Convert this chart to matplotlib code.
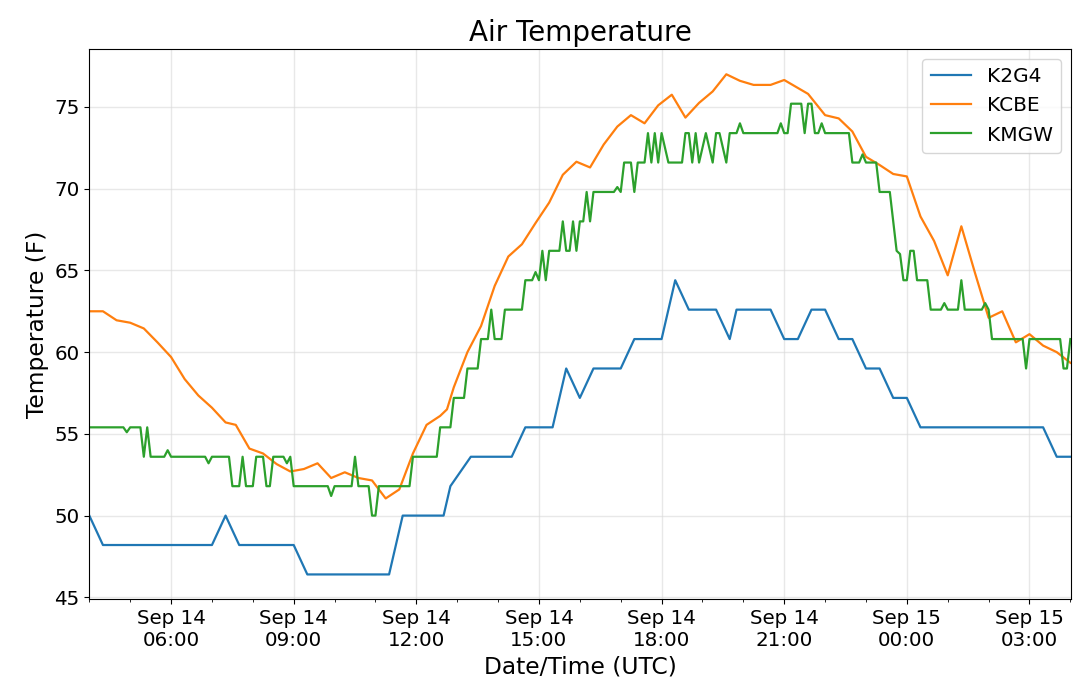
import pandas as pd
import matplotlib
matplotlib.use("Agg")
import matplotlib.pyplot as plt
import matplotlib.dates as mdates

# start of the record, times below are minutes after this
start = pd.Timestamp("2019-09-14 04:00")

k2g4_min = [0, 20, 180, 200, 220, 300, 320, 440, 460, 520, 530, 560, 620, 640,
            680, 700, 720, 740, 780, 800, 840, 860, 880, 920, 940, 950, 1000,
            1020, 1040, 1060, 1080, 1100, 1120, 1140, 1160, 1180, 1200, 1220,
            1400, 1420, 1440]
k2g4_temp = [50.0, 48.2, 48.2, 50.0, 48.2, 48.2, 46.4, 46.4, 50.0, 50.0, 51.8,
             53.6, 53.6, 55.4, 55.4, 59.0, 57.2, 59.0, 59.0, 60.8, 60.8, 64.4,
             62.6, 62.6, 60.8, 62.6, 62.6, 60.8, 60.8, 62.6, 62.6, 60.8, 60.8,
             59.0, 59.0, 57.2, 57.2, 55.4, 55.4, 53.6, 53.6]

kcbe_min = [0, 20, 40, 60, 80, 100, 120, 140, 160, 180, 200, 215, 235, 255,
            275, 295, 315, 335, 355, 375, 395, 415, 435, 455, 475, 495, 515,
            525, 535, 555, 575, 595, 615, 635, 655, 675, 695, 715, 735, 755,
            775, 795, 815, 835, 855, 875, 895, 915, 935, 955, 975, 1000, 1020,
            1055, 1080, 1100, 1120, 1140, 1160, 1180, 1200, 1220, 1240, 1260,
            1280, 1300, 1320, 1340, 1360, 1380, 1400, 1420, 1440]
kcbe_temp = [62.5, 62.5, 61.95, 61.8, 61.45, 60.6, 59.7, 58.35, 57.35, 56.6,
             55.7, 55.55, 54.1, 53.8, 53.15, 52.7, 52.85, 53.2, 52.3, 52.65,
             52.3, 52.15, 51.05, 51.6, 53.8, 55.55, 56.1, 56.5, 57.85, 60.0,
             61.6, 64.05, 65.85, 66.6, 67.9, 69.15, 70.85, 71.65, 71.3, 72.7,
             73.8, 74.5, 74.0, 75.1, 75.75, 74.35, 75.25, 75.95, 77.0, 76.6,
             76.35, 76.35, 76.65, 75.8, 74.5, 74.3, 73.5, 71.95, 71.45, 70.9,
             70.75, 68.3, 66.8, 64.7, 67.7, 64.85, 62.1, 62.5, 60.6, 61.1,
             60.4, 60.0, 59.35]

kmgw_min = [0, 50, 55, 60, 75, 80, 85, 90, 110, 115, 120, 170, 175, 180, 205,
            210, 220, 225, 230, 240, 245, 255, 260, 265, 270, 285, 290, 295,
            300, 350, 355, 360, 385, 390, 395, 410, 415, 420, 425, 470, 475,
            510, 515, 530, 535, 550, 555, 570, 575, 585, 590, 595, 605, 610,
            635, 640, 650, 655, 660, 665, 670, 675, 690, 695, 700, 705, 710,
            715, 720, 725, 730, 735, 740, 770, 775, 780, 785, 795, 800, 805,
            815, 820, 825, 830, 835, 840, 850, 870, 875, 880, 885, 890, 895,
            905, 915, 920, 925, 935, 940, 950, 955, 960, 1010, 1015, 1020,
            1025, 1030, 1045, 1050, 1055, 1060, 1065, 1070, 1075, 1080, 1115,
            1120, 1130, 1135, 1140, 1155, 1160, 1175, 1185, 1190, 1195, 1200,
            1205, 1210, 1215, 1230, 1235, 1250, 1255, 1260, 1275, 1280, 1285,
            1310, 1315, 1320, 1325, 1370, 1375, 1380, 1425, 1430, 1435, 1440]
kmgw_temp = [55.4, 55.4, 55.1, 55.4, 55.4, 53.6, 55.4, 53.6, 53.6, 54.0, 53.6,
             53.6, 53.2, 53.6, 53.6, 51.8, 51.8, 53.6, 51.8, 51.8, 53.6, 53.6,
             51.8, 51.8, 53.6, 53.6, 53.2, 53.6, 51.8, 51.8, 51.2, 51.8, 51.8,
             53.6, 51.8, 51.8, 50.0, 50.0, 51.8, 51.8, 53.6, 53.6, 55.4, 55.4,
             57.2, 57.2, 59.0, 59.0, 60.8, 60.8, 62.6, 60.8, 60.8, 62.6, 62.6,
             64.4, 64.4, 64.9, 64.4, 66.2, 64.4, 66.2, 66.2, 68.0, 66.2, 66.2,
             68.0, 66.2, 68.0, 68.0, 69.8, 68.0, 69.8, 69.8, 70.1, 69.8, 71.6,
             71.6, 69.8, 71.6, 71.6, 73.4, 71.6, 73.4, 71.6, 73.4, 71.6, 71.6,
             73.4, 73.4, 71.6, 73.4, 71.6, 73.4, 71.6, 73.4, 73.4, 71.6, 73.4,
             73.4, 74.0, 73.4, 73.4, 74.0, 73.4, 73.4, 75.2, 75.2, 73.4, 75.2,
             75.2, 73.4, 73.4, 74.0, 73.4, 73.4, 71.6, 71.6, 72.1, 71.6, 71.6,
             69.8, 69.8, 66.2, 66.0, 64.4, 64.4, 66.2, 66.2, 64.4, 64.4, 62.6,
             62.6, 63.0, 62.6, 62.6, 64.4, 62.6, 62.6, 63.0, 62.6, 60.8, 60.8,
             59.0, 60.8, 60.8, 59.0, 59.0, 60.8]

stations = ["K2G4", "KCBE", "KMGW"]


def to_times(mins):
    return (start + pd.to_timedelta(mins, unit="m")).to_pydatetime()


fig, ax = plt.subplots(figsize=(10.8, 6.93), dpi=100)
fig.subplots_adjust(left=0.0827, right=0.9917, top=0.9289, bottom=0.135)

for name, mins, temps in zip(stations,
                             [k2g4_min, kcbe_min, kmgw_min],
                             [k2g4_temp, kcbe_temp, kmgw_temp]):
    ax.plot(to_times(mins), temps, label=name, lw=1.6)

ax.set_xlim(start.to_pydatetime(), (start + pd.Timedelta(minutes=1441)).to_pydatetime())
ax.xaxis.set_major_locator(mdates.HourLocator(byhour=range(0, 24, 3)))
ax.xaxis.set_minor_locator(mdates.HourLocator())
ax.xaxis.set_major_formatter(mdates.DateFormatter("%b %d\n%H:%M"))

ax.grid(True, color="#d9d9d9", alpha=0.6, lw=1.0)
ax.tick_params(labelsize=14.3)
for lbl in ax.get_xticklabels():
    lbl.set_horizontalalignment("center")

ax.set_title("Air Temperature", fontsize=20)
ax.set_xlabel("Date/Time (UTC)", fontsize=16.8)
ax.set_ylabel("Temperature (F)", fontsize=16.8)
ax.legend(loc="upper right", fontsize=14.5)

fig.savefig("out.png", dpi=100)
